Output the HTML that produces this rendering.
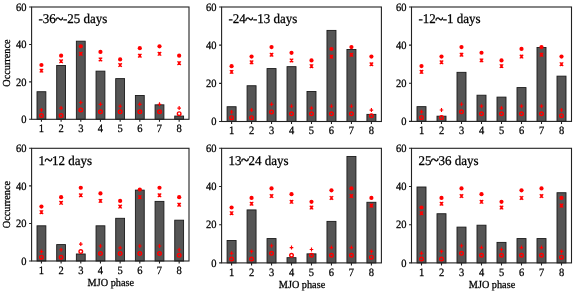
<!DOCTYPE html>
<html><head><meta charset="utf-8"><style>
html,body{margin:0;padding:0;background:#fff;}
body{width:575px;height:292px;overflow:hidden;}
svg{display:block;will-change:transform;}
text{text-rendering:geometricPrecision;font-family:"Liberation Serif",serif;fill:#000000;stroke:#000000;stroke-width:0.25px;}
</style></head><body>
<svg width="575" height="292" viewBox="0 0 575 292">
<rect width="575" height="292" fill="#fff"/>
<rect x="37.01" y="91.72" width="8.85" height="27.58" fill="#555555" stroke="#1a1a1a" stroke-width="0.9"/>
<rect x="56.69" y="65.52" width="8.85" height="53.78" fill="#555555" stroke="#1a1a1a" stroke-width="0.9"/>
<rect x="76.36" y="41.19" width="8.85" height="78.11" fill="#555555" stroke="#1a1a1a" stroke-width="0.9"/>
<rect x="96.04" y="71.14" width="8.85" height="48.16" fill="#555555" stroke="#1a1a1a" stroke-width="0.9"/>
<rect x="115.71" y="78.62" width="8.85" height="40.68" fill="#555555" stroke="#1a1a1a" stroke-width="0.9"/>
<rect x="135.39" y="95.47" width="8.85" height="23.83" fill="#555555" stroke="#1a1a1a" stroke-width="0.9"/>
<rect x="155.06" y="104.83" width="8.85" height="14.47" fill="#555555" stroke="#1a1a1a" stroke-width="0.9"/>
<rect x="174.74" y="116.06" width="8.85" height="3.24" fill="#555555" stroke="#1a1a1a" stroke-width="0.9"/>
<circle cx="41.44" cy="65.02" r="2.1" fill="#ff0000"/>
<path d="M39.74,68.84L43.14,72.44M43.14,68.84L39.74,72.44M40.24,70.64H42.64M41.44,68.84V72.44" stroke="#ff0000" stroke-width="1.25" fill="none"/>
<path d="M39.64,109.94H43.24M41.44,107.94V111.94" stroke="#ff0000" stroke-width="1.15" fill="none"/>
<circle cx="41.44" cy="115.56" r="1.8" fill="none" stroke="#ff0000" stroke-width="1.4"/>
<circle cx="61.11" cy="55.66" r="2.1" fill="#ff0000"/>
<path d="M59.41,59.48L62.81,63.08M62.81,59.48L59.41,63.08M59.91,61.28H62.31M61.11,59.48V63.08" stroke="#ff0000" stroke-width="1.25" fill="none"/>
<path d="M59.31,108.07H62.91M61.11,106.07V110.07" stroke="#ff0000" stroke-width="1.15" fill="none"/>
<circle cx="61.11" cy="115.56" r="1.8" fill="none" stroke="#ff0000" stroke-width="1.4"/>
<circle cx="80.79" cy="46.31" r="2.1" fill="#ff0000"/>
<path d="M79.09,51.99L82.49,55.59M82.49,51.99L79.09,55.59M79.59,53.79H81.99M80.79,51.99V55.59" stroke="#ff0000" stroke-width="1.25" fill="none"/>
<path d="M78.99,102.45H82.59M80.79,100.45V104.45" stroke="#ff0000" stroke-width="1.15" fill="none"/>
<circle cx="80.79" cy="109.94" r="1.8" fill="none" stroke="#ff0000" stroke-width="1.4"/>
<circle cx="100.46" cy="51.92" r="2.1" fill="#ff0000"/>
<path d="M98.76,57.61L102.16,61.21M102.16,57.61L98.76,61.21M99.26,59.41H101.66M100.46,57.61V61.21" stroke="#ff0000" stroke-width="1.25" fill="none"/>
<path d="M98.66,104.33H102.26M100.46,102.33V106.33" stroke="#ff0000" stroke-width="1.15" fill="none"/>
<circle cx="100.46" cy="111.81" r="1.8" fill="none" stroke="#ff0000" stroke-width="1.4"/>
<circle cx="120.14" cy="59.41" r="2.1" fill="#ff0000"/>
<path d="M118.44,63.22L121.84,66.82M121.84,63.22L118.44,66.82M118.94,65.02H121.34M120.14,63.22V66.82" stroke="#ff0000" stroke-width="1.25" fill="none"/>
<path d="M118.34,106.20H121.94M120.14,104.20V108.20" stroke="#ff0000" stroke-width="1.15" fill="none"/>
<circle cx="120.14" cy="111.81" r="1.8" fill="none" stroke="#ff0000" stroke-width="1.4"/>
<circle cx="139.81" cy="48.18" r="2.1" fill="#ff0000"/>
<path d="M138.11,53.86L141.51,57.46M141.51,53.86L138.11,57.46M138.61,55.66H141.01M139.81,53.86V57.46" stroke="#ff0000" stroke-width="1.25" fill="none"/>
<path d="M138.01,104.33H141.61M139.81,102.33V106.33" stroke="#ff0000" stroke-width="1.15" fill="none"/>
<circle cx="139.81" cy="111.81" r="1.8" fill="none" stroke="#ff0000" stroke-width="1.4"/>
<circle cx="159.49" cy="46.31" r="2.1" fill="#ff0000"/>
<path d="M157.79,51.99L161.19,55.59M161.19,51.99L157.79,55.59M158.29,53.79H160.69M159.49,51.99V55.59" stroke="#ff0000" stroke-width="1.25" fill="none"/>
<path d="M157.69,104.33H161.29M159.49,102.33V106.33" stroke="#ff0000" stroke-width="1.15" fill="none"/>
<circle cx="159.49" cy="111.81" r="1.8" fill="none" stroke="#ff0000" stroke-width="1.4"/>
<circle cx="179.16" cy="55.66" r="2.1" fill="#ff0000"/>
<path d="M177.46,61.35L180.86,64.95M180.86,61.35L177.46,64.95M177.96,63.15H180.36M179.16,61.35V64.95" stroke="#ff0000" stroke-width="1.25" fill="none"/>
<path d="M177.36,108.07H180.96M179.16,106.07V110.07" stroke="#ff0000" stroke-width="1.15" fill="none"/>
<circle cx="179.16" cy="113.69" r="1.8" fill="none" stroke="#ff0000" stroke-width="1.4"/>
<rect x="31.60" y="7.00" width="157.40" height="112.30" fill="none" stroke="#222" stroke-width="1.1"/>
<path d="M29.10,119.30H31.60M29.10,81.87H31.60M29.10,44.43H31.60M29.10,7.00H31.60M41.44,119.30V121.80M61.11,119.30V121.80M80.79,119.30V121.80M100.46,119.30V121.80M120.14,119.30V121.80M139.81,119.30V121.80M159.49,119.30V121.80M179.16,119.30V121.80" stroke="#222" stroke-width="1.1" fill="none"/>
<text transform="translate(26.60,122.95) scale(1,1.07)" text-anchor="end" font-size="10.5">0</text>
<text transform="translate(26.60,85.52) scale(1,1.07)" text-anchor="end" font-size="10.5">20</text>
<text transform="translate(26.60,48.08) scale(1,1.07)" text-anchor="end" font-size="10.5">40</text>
<text transform="translate(26.60,10.65) scale(1,1.07)" text-anchor="end" font-size="10.5">60</text>
<text transform="translate(41.44,132.00) scale(1,1.07)" text-anchor="middle" font-size="10.5">1</text>
<text transform="translate(61.11,132.00) scale(1,1.07)" text-anchor="middle" font-size="10.5">2</text>
<text transform="translate(80.79,132.00) scale(1,1.07)" text-anchor="middle" font-size="10.5">3</text>
<text transform="translate(100.46,132.00) scale(1,1.07)" text-anchor="middle" font-size="10.5">4</text>
<text transform="translate(120.14,132.00) scale(1,1.07)" text-anchor="middle" font-size="10.5">5</text>
<text transform="translate(139.81,132.00) scale(1,1.07)" text-anchor="middle" font-size="10.5">6</text>
<text transform="translate(159.49,132.00) scale(1,1.07)" text-anchor="middle" font-size="10.5">7</text>
<text transform="translate(179.16,132.00) scale(1,1.07)" text-anchor="middle" font-size="10.5">8</text>
<text transform="translate(38.50,23.20) scale(1.0,1.03)" font-size="13">-36<tspan dx="-0.54" dy="0.6" font-size="15" style="stroke-width:0.45px">~</tspan><tspan dx="-0.54" dy="-0.6">-25 days</tspan></text>
<text transform="translate(10.10,63.10) rotate(-90) scale(1,1.05)" text-anchor="middle" font-size="10.25">Occurrence</text>
<rect x="227.09" y="106.73" width="8.99" height="14.77" fill="#555555" stroke="#1a1a1a" stroke-width="0.9"/>
<rect x="247.07" y="85.74" width="8.99" height="35.76" fill="#555555" stroke="#1a1a1a" stroke-width="0.9"/>
<rect x="267.04" y="68.57" width="8.99" height="52.93" fill="#555555" stroke="#1a1a1a" stroke-width="0.9"/>
<rect x="287.02" y="66.66" width="8.99" height="54.84" fill="#555555" stroke="#1a1a1a" stroke-width="0.9"/>
<rect x="306.99" y="91.47" width="8.99" height="30.03" fill="#555555" stroke="#1a1a1a" stroke-width="0.9"/>
<rect x="326.97" y="30.40" width="8.99" height="91.10" fill="#555555" stroke="#1a1a1a" stroke-width="0.9"/>
<rect x="346.94" y="49.48" width="8.99" height="72.02" fill="#555555" stroke="#1a1a1a" stroke-width="0.9"/>
<rect x="366.92" y="114.37" width="8.99" height="7.13" fill="#555555" stroke="#1a1a1a" stroke-width="0.9"/>
<circle cx="231.59" cy="66.16" r="2.1" fill="#ff0000"/>
<path d="M229.89,70.08L233.29,73.68M233.29,70.08L229.89,73.68M230.39,71.88H232.79M231.59,70.08V73.68" stroke="#ff0000" stroke-width="1.25" fill="none"/>
<path d="M229.79,111.96H233.39M231.59,109.96V113.96" stroke="#ff0000" stroke-width="1.15" fill="none"/>
<circle cx="231.59" cy="117.68" r="1.8" fill="none" stroke="#ff0000" stroke-width="1.4"/>
<circle cx="251.56" cy="56.62" r="2.1" fill="#ff0000"/>
<path d="M249.86,60.54L253.26,64.14M253.26,60.54L249.86,64.14M250.36,62.34H252.76M251.56,60.54V64.14" stroke="#ff0000" stroke-width="1.25" fill="none"/>
<path d="M249.76,110.05H253.36M251.56,108.05V112.05" stroke="#ff0000" stroke-width="1.15" fill="none"/>
<circle cx="251.56" cy="117.68" r="1.8" fill="none" stroke="#ff0000" stroke-width="1.4"/>
<circle cx="271.54" cy="47.08" r="2.1" fill="#ff0000"/>
<path d="M269.84,52.91L273.24,56.51M273.24,52.91L269.84,56.51M270.34,54.71H272.74M271.54,52.91V56.51" stroke="#ff0000" stroke-width="1.25" fill="none"/>
<path d="M269.74,104.33H273.34M271.54,102.33V106.33" stroke="#ff0000" stroke-width="1.15" fill="none"/>
<circle cx="271.54" cy="111.96" r="1.8" fill="none" stroke="#ff0000" stroke-width="1.4"/>
<circle cx="291.51" cy="52.80" r="2.1" fill="#ff0000"/>
<path d="M289.81,58.63L293.21,62.23M293.21,58.63L289.81,62.23M290.31,60.43H292.71M291.51,58.63V62.23" stroke="#ff0000" stroke-width="1.25" fill="none"/>
<path d="M289.71,106.23H293.31M291.51,104.23V108.23" stroke="#ff0000" stroke-width="1.15" fill="none"/>
<circle cx="291.51" cy="113.87" r="1.8" fill="none" stroke="#ff0000" stroke-width="1.4"/>
<circle cx="311.49" cy="60.43" r="2.1" fill="#ff0000"/>
<path d="M309.79,64.36L313.19,67.96M313.19,64.36L309.79,67.96M310.29,66.16H312.69M311.49,64.36V67.96" stroke="#ff0000" stroke-width="1.25" fill="none"/>
<path d="M309.69,108.14H313.29M311.49,106.14V110.14" stroke="#ff0000" stroke-width="1.15" fill="none"/>
<circle cx="311.49" cy="113.87" r="1.8" fill="none" stroke="#ff0000" stroke-width="1.4"/>
<circle cx="331.46" cy="48.98" r="2.1" fill="#ff0000"/>
<path d="M329.76,54.82L333.16,58.42M333.16,54.82L329.76,58.42M330.26,56.62H332.66M331.46,54.82V58.42" stroke="#ff0000" stroke-width="1.25" fill="none"/>
<path d="M329.66,106.23H333.26M331.46,104.23V108.23" stroke="#ff0000" stroke-width="1.15" fill="none"/>
<circle cx="331.46" cy="113.87" r="1.8" fill="none" stroke="#ff0000" stroke-width="1.4"/>
<circle cx="351.44" cy="47.08" r="2.1" fill="#ff0000"/>
<path d="M349.74,52.91L353.14,56.51M353.14,52.91L349.74,56.51M350.24,54.71H352.64M351.44,52.91V56.51" stroke="#ff0000" stroke-width="1.25" fill="none"/>
<path d="M349.64,106.23H353.24M351.44,104.23V108.23" stroke="#ff0000" stroke-width="1.15" fill="none"/>
<circle cx="351.44" cy="113.87" r="1.8" fill="none" stroke="#ff0000" stroke-width="1.4"/>
<circle cx="371.41" cy="56.62" r="2.1" fill="#ff0000"/>
<path d="M369.71,62.45L373.11,66.05M373.11,62.45L369.71,66.05M370.21,64.25H372.61M371.41,62.45V66.05" stroke="#ff0000" stroke-width="1.25" fill="none"/>
<path d="M369.61,110.05H373.21M371.41,108.05V112.05" stroke="#ff0000" stroke-width="1.15" fill="none"/>
<circle cx="371.41" cy="115.78" r="1.8" fill="none" stroke="#ff0000" stroke-width="1.4"/>
<rect x="221.60" y="7.00" width="159.80" height="114.50" fill="none" stroke="#222" stroke-width="1.1"/>
<path d="M219.10,121.50H221.60M219.10,83.33H221.60M219.10,45.17H221.60M219.10,7.00H221.60M231.59,121.50V124.00M251.56,121.50V124.00M271.54,121.50V124.00M291.51,121.50V124.00M311.49,121.50V124.00M331.46,121.50V124.00M351.44,121.50V124.00M371.41,121.50V124.00" stroke="#222" stroke-width="1.1" fill="none"/>
<text transform="translate(216.60,125.15) scale(1,1.07)" text-anchor="end" font-size="10.5">0</text>
<text transform="translate(216.60,86.98) scale(1,1.07)" text-anchor="end" font-size="10.5">20</text>
<text transform="translate(216.60,48.82) scale(1,1.07)" text-anchor="end" font-size="10.5">40</text>
<text transform="translate(216.60,10.65) scale(1,1.07)" text-anchor="end" font-size="10.5">60</text>
<text transform="translate(231.59,134.20) scale(1,1.07)" text-anchor="middle" font-size="10.5">1</text>
<text transform="translate(251.56,134.20) scale(1,1.07)" text-anchor="middle" font-size="10.5">2</text>
<text transform="translate(271.54,134.20) scale(1,1.07)" text-anchor="middle" font-size="10.5">3</text>
<text transform="translate(291.51,134.20) scale(1,1.07)" text-anchor="middle" font-size="10.5">4</text>
<text transform="translate(311.49,134.20) scale(1,1.07)" text-anchor="middle" font-size="10.5">5</text>
<text transform="translate(331.46,134.20) scale(1,1.07)" text-anchor="middle" font-size="10.5">6</text>
<text transform="translate(351.44,134.20) scale(1,1.07)" text-anchor="middle" font-size="10.5">7</text>
<text transform="translate(371.41,134.20) scale(1,1.07)" text-anchor="middle" font-size="10.5">8</text>
<text transform="translate(228.50,23.20) scale(1.0,1.03)" font-size="13">-24<tspan dx="-0.54" dy="0.6" font-size="15" style="stroke-width:0.45px">~</tspan><tspan dx="-0.54" dy="-0.6">-13 days</tspan></text>
<rect x="417.00" y="106.65" width="9.00" height="14.75" fill="#555555" stroke="#1a1a1a" stroke-width="0.9"/>
<rect x="437.00" y="116.18" width="9.00" height="5.22" fill="#555555" stroke="#1a1a1a" stroke-width="0.9"/>
<rect x="457.00" y="72.33" width="9.00" height="49.07" fill="#555555" stroke="#1a1a1a" stroke-width="0.9"/>
<rect x="477.00" y="95.21" width="9.00" height="26.19" fill="#555555" stroke="#1a1a1a" stroke-width="0.9"/>
<rect x="497.00" y="97.11" width="9.00" height="24.29" fill="#555555" stroke="#1a1a1a" stroke-width="0.9"/>
<rect x="517.00" y="87.58" width="9.00" height="33.82" fill="#555555" stroke="#1a1a1a" stroke-width="0.9"/>
<rect x="537.00" y="47.54" width="9.00" height="73.86" fill="#555555" stroke="#1a1a1a" stroke-width="0.9"/>
<rect x="557.00" y="76.14" width="9.00" height="45.26" fill="#555555" stroke="#1a1a1a" stroke-width="0.9"/>
<circle cx="421.50" cy="66.11" r="2.1" fill="#ff0000"/>
<path d="M419.80,70.03L423.20,73.63M423.20,70.03L419.80,73.63M420.30,71.83H422.70M421.50,70.03V73.63" stroke="#ff0000" stroke-width="1.25" fill="none"/>
<path d="M419.70,111.87H423.30M421.50,109.87V113.87" stroke="#ff0000" stroke-width="1.15" fill="none"/>
<circle cx="421.50" cy="117.59" r="1.8" fill="none" stroke="#ff0000" stroke-width="1.4"/>
<circle cx="441.50" cy="56.57" r="2.1" fill="#ff0000"/>
<path d="M439.80,60.49L443.20,64.09M443.20,60.49L439.80,64.09M440.30,62.29H442.70M441.50,60.49V64.09" stroke="#ff0000" stroke-width="1.25" fill="none"/>
<path d="M439.70,109.96H443.30M441.50,107.96V111.96" stroke="#ff0000" stroke-width="1.15" fill="none"/>
<circle cx="441.50" cy="117.59" r="1.8" fill="none" stroke="#ff0000" stroke-width="1.4"/>
<circle cx="461.50" cy="47.04" r="2.1" fill="#ff0000"/>
<path d="M459.80,52.87L463.20,56.47M463.20,52.87L459.80,56.47M460.30,54.67H462.70M461.50,52.87V56.47" stroke="#ff0000" stroke-width="1.25" fill="none"/>
<path d="M459.70,104.24H463.30M461.50,102.24V106.24" stroke="#ff0000" stroke-width="1.15" fill="none"/>
<circle cx="461.50" cy="111.87" r="1.8" fill="none" stroke="#ff0000" stroke-width="1.4"/>
<circle cx="481.50" cy="52.76" r="2.1" fill="#ff0000"/>
<path d="M479.80,58.59L483.20,62.19M483.20,58.59L479.80,62.19M480.30,60.39H482.70M481.50,58.59V62.19" stroke="#ff0000" stroke-width="1.25" fill="none"/>
<path d="M479.70,106.15H483.30M481.50,104.15V108.15" stroke="#ff0000" stroke-width="1.15" fill="none"/>
<circle cx="481.50" cy="113.77" r="1.8" fill="none" stroke="#ff0000" stroke-width="1.4"/>
<circle cx="501.50" cy="60.39" r="2.1" fill="#ff0000"/>
<path d="M499.80,64.31L503.20,67.91M503.20,64.31L499.80,67.91M500.30,66.11H502.70M501.50,64.31V67.91" stroke="#ff0000" stroke-width="1.25" fill="none"/>
<path d="M499.70,108.05H503.30M501.50,106.05V110.05" stroke="#ff0000" stroke-width="1.15" fill="none"/>
<circle cx="501.50" cy="113.77" r="1.8" fill="none" stroke="#ff0000" stroke-width="1.4"/>
<circle cx="521.50" cy="48.95" r="2.1" fill="#ff0000"/>
<path d="M519.80,54.77L523.20,58.37M523.20,54.77L519.80,58.37M520.30,56.57H522.70M521.50,54.77V58.37" stroke="#ff0000" stroke-width="1.25" fill="none"/>
<path d="M519.70,106.15H523.30M521.50,104.15V108.15" stroke="#ff0000" stroke-width="1.15" fill="none"/>
<circle cx="521.50" cy="113.77" r="1.8" fill="none" stroke="#ff0000" stroke-width="1.4"/>
<circle cx="541.50" cy="47.04" r="2.1" fill="#ff0000"/>
<path d="M539.80,52.87L543.20,56.47M543.20,52.87L539.80,56.47M540.30,54.67H542.70M541.50,52.87V56.47" stroke="#ff0000" stroke-width="1.25" fill="none"/>
<path d="M539.70,106.15H543.30M541.50,104.15V108.15" stroke="#ff0000" stroke-width="1.15" fill="none"/>
<circle cx="541.50" cy="113.77" r="1.8" fill="none" stroke="#ff0000" stroke-width="1.4"/>
<circle cx="561.50" cy="56.57" r="2.1" fill="#ff0000"/>
<path d="M559.80,62.40L563.20,66.00M563.20,62.40L559.80,66.00M560.30,64.20H562.70M561.50,62.40V66.00" stroke="#ff0000" stroke-width="1.25" fill="none"/>
<path d="M559.70,109.96H563.30M561.50,107.96V111.96" stroke="#ff0000" stroke-width="1.15" fill="none"/>
<circle cx="561.50" cy="115.68" r="1.8" fill="none" stroke="#ff0000" stroke-width="1.4"/>
<rect x="411.50" y="7.00" width="160.00" height="114.40" fill="none" stroke="#222" stroke-width="1.1"/>
<path d="M409.00,121.40H411.50M409.00,83.27H411.50M409.00,45.13H411.50M409.00,7.00H411.50M421.50,121.40V123.90M441.50,121.40V123.90M461.50,121.40V123.90M481.50,121.40V123.90M501.50,121.40V123.90M521.50,121.40V123.90M541.50,121.40V123.90M561.50,121.40V123.90" stroke="#222" stroke-width="1.1" fill="none"/>
<text transform="translate(406.50,125.05) scale(1,1.07)" text-anchor="end" font-size="10.5">0</text>
<text transform="translate(406.50,86.92) scale(1,1.07)" text-anchor="end" font-size="10.5">20</text>
<text transform="translate(406.50,48.78) scale(1,1.07)" text-anchor="end" font-size="10.5">40</text>
<text transform="translate(406.50,10.65) scale(1,1.07)" text-anchor="end" font-size="10.5">60</text>
<text transform="translate(421.50,134.10) scale(1,1.07)" text-anchor="middle" font-size="10.5">1</text>
<text transform="translate(441.50,134.10) scale(1,1.07)" text-anchor="middle" font-size="10.5">2</text>
<text transform="translate(461.50,134.10) scale(1,1.07)" text-anchor="middle" font-size="10.5">3</text>
<text transform="translate(481.50,134.10) scale(1,1.07)" text-anchor="middle" font-size="10.5">4</text>
<text transform="translate(501.50,134.10) scale(1,1.07)" text-anchor="middle" font-size="10.5">5</text>
<text transform="translate(521.50,134.10) scale(1,1.07)" text-anchor="middle" font-size="10.5">6</text>
<text transform="translate(541.50,134.10) scale(1,1.07)" text-anchor="middle" font-size="10.5">7</text>
<text transform="translate(561.50,134.10) scale(1,1.07)" text-anchor="middle" font-size="10.5">8</text>
<text transform="translate(418.40,23.20) scale(1.0,1.03)" font-size="13">-12<tspan dx="-0.54" dy="0.6" font-size="15" style="stroke-width:0.45px">~</tspan><tspan dx="-0.54" dy="-0.6">-1 days</tspan></text>
<rect x="37.01" y="225.81" width="8.85" height="35.19" fill="#555555" stroke="#1a1a1a" stroke-width="0.9"/>
<rect x="56.69" y="244.59" width="8.85" height="16.41" fill="#555555" stroke="#1a1a1a" stroke-width="0.9"/>
<rect x="76.36" y="253.99" width="8.85" height="7.01" fill="#555555" stroke="#1a1a1a" stroke-width="0.9"/>
<rect x="96.04" y="225.81" width="8.85" height="35.19" fill="#555555" stroke="#1a1a1a" stroke-width="0.9"/>
<rect x="115.71" y="218.30" width="8.85" height="42.70" fill="#555555" stroke="#1a1a1a" stroke-width="0.9"/>
<rect x="135.39" y="190.12" width="8.85" height="70.88" fill="#555555" stroke="#1a1a1a" stroke-width="0.9"/>
<rect x="155.06" y="201.39" width="8.85" height="59.61" fill="#555555" stroke="#1a1a1a" stroke-width="0.9"/>
<rect x="174.74" y="220.18" width="8.85" height="40.82" fill="#555555" stroke="#1a1a1a" stroke-width="0.9"/>
<circle cx="41.44" cy="206.53" r="2.1" fill="#ff0000"/>
<path d="M39.74,210.36L43.14,213.96M43.14,210.36L39.74,213.96M40.24,212.16H42.64M41.44,210.36V213.96" stroke="#ff0000" stroke-width="1.25" fill="none"/>
<path d="M39.64,251.61H43.24M41.44,249.61V253.61" stroke="#ff0000" stroke-width="1.15" fill="none"/>
<circle cx="41.44" cy="257.24" r="1.8" fill="none" stroke="#ff0000" stroke-width="1.4"/>
<circle cx="61.11" cy="197.14" r="2.1" fill="#ff0000"/>
<path d="M59.41,200.97L62.81,204.57M62.81,200.97L59.41,204.57M59.91,202.77H62.31M61.11,200.97V204.57" stroke="#ff0000" stroke-width="1.25" fill="none"/>
<path d="M59.31,249.73H62.91M61.11,247.73V251.73" stroke="#ff0000" stroke-width="1.15" fill="none"/>
<circle cx="61.11" cy="257.24" r="1.8" fill="none" stroke="#ff0000" stroke-width="1.4"/>
<circle cx="80.79" cy="187.75" r="2.1" fill="#ff0000"/>
<path d="M79.09,193.46L82.49,197.06M82.49,193.46L79.09,197.06M79.59,195.26H81.99M80.79,193.46V197.06" stroke="#ff0000" stroke-width="1.25" fill="none"/>
<path d="M78.99,244.09H82.59M80.79,242.09V246.09" stroke="#ff0000" stroke-width="1.15" fill="none"/>
<circle cx="80.79" cy="251.61" r="1.8" fill="none" stroke="#ff0000" stroke-width="1.4"/>
<circle cx="100.46" cy="193.38" r="2.1" fill="#ff0000"/>
<path d="M98.76,199.09L102.16,202.69M102.16,199.09L98.76,202.69M99.26,200.89H101.66M100.46,199.09V202.69" stroke="#ff0000" stroke-width="1.25" fill="none"/>
<path d="M98.66,245.97H102.26M100.46,243.97V247.97" stroke="#ff0000" stroke-width="1.15" fill="none"/>
<circle cx="100.46" cy="253.49" r="1.8" fill="none" stroke="#ff0000" stroke-width="1.4"/>
<circle cx="120.14" cy="200.89" r="2.1" fill="#ff0000"/>
<path d="M118.44,204.73L121.84,208.33M121.84,204.73L118.44,208.33M118.94,206.53H121.34M120.14,204.73V208.33" stroke="#ff0000" stroke-width="1.25" fill="none"/>
<path d="M118.34,247.85H121.94M120.14,245.85V249.85" stroke="#ff0000" stroke-width="1.15" fill="none"/>
<circle cx="120.14" cy="253.49" r="1.8" fill="none" stroke="#ff0000" stroke-width="1.4"/>
<circle cx="139.81" cy="189.62" r="2.1" fill="#ff0000"/>
<path d="M138.11,195.34L141.51,198.94M141.51,195.34L138.11,198.94M138.61,197.14H141.01M139.81,195.34V198.94" stroke="#ff0000" stroke-width="1.25" fill="none"/>
<path d="M138.01,245.97H141.61M139.81,243.97V247.97" stroke="#ff0000" stroke-width="1.15" fill="none"/>
<circle cx="139.81" cy="253.49" r="1.8" fill="none" stroke="#ff0000" stroke-width="1.4"/>
<circle cx="159.49" cy="187.75" r="2.1" fill="#ff0000"/>
<path d="M157.79,193.46L161.19,197.06M161.19,193.46L157.79,197.06M158.29,195.26H160.69M159.49,193.46V197.06" stroke="#ff0000" stroke-width="1.25" fill="none"/>
<path d="M157.69,245.97H161.29M159.49,243.97V247.97" stroke="#ff0000" stroke-width="1.15" fill="none"/>
<circle cx="159.49" cy="253.49" r="1.8" fill="none" stroke="#ff0000" stroke-width="1.4"/>
<circle cx="179.16" cy="197.14" r="2.1" fill="#ff0000"/>
<path d="M177.46,202.85L180.86,206.45M180.86,202.85L177.46,206.45M177.96,204.65H180.36M179.16,202.85V206.45" stroke="#ff0000" stroke-width="1.25" fill="none"/>
<path d="M177.36,249.73H180.96M179.16,247.73V251.73" stroke="#ff0000" stroke-width="1.15" fill="none"/>
<circle cx="179.16" cy="255.37" r="1.8" fill="none" stroke="#ff0000" stroke-width="1.4"/>
<rect x="31.60" y="148.30" width="157.40" height="112.70" fill="none" stroke="#222" stroke-width="1.1"/>
<path d="M29.10,261.00H31.60M29.10,223.43H31.60M29.10,185.87H31.60M29.10,148.30H31.60M41.44,261.00V263.50M61.11,261.00V263.50M80.79,261.00V263.50M100.46,261.00V263.50M120.14,261.00V263.50M139.81,261.00V263.50M159.49,261.00V263.50M179.16,261.00V263.50" stroke="#222" stroke-width="1.1" fill="none"/>
<text transform="translate(26.60,264.65) scale(1,1.07)" text-anchor="end" font-size="10.5">0</text>
<text transform="translate(26.60,227.08) scale(1,1.07)" text-anchor="end" font-size="10.5">20</text>
<text transform="translate(26.60,189.52) scale(1,1.07)" text-anchor="end" font-size="10.5">40</text>
<text transform="translate(26.60,151.95) scale(1,1.07)" text-anchor="end" font-size="10.5">60</text>
<text transform="translate(41.44,273.70) scale(1,1.07)" text-anchor="middle" font-size="10.5">1</text>
<text transform="translate(61.11,273.70) scale(1,1.07)" text-anchor="middle" font-size="10.5">2</text>
<text transform="translate(80.79,273.70) scale(1,1.07)" text-anchor="middle" font-size="10.5">3</text>
<text transform="translate(100.46,273.70) scale(1,1.07)" text-anchor="middle" font-size="10.5">4</text>
<text transform="translate(120.14,273.70) scale(1,1.07)" text-anchor="middle" font-size="10.5">5</text>
<text transform="translate(139.81,273.70) scale(1,1.07)" text-anchor="middle" font-size="10.5">6</text>
<text transform="translate(159.49,273.70) scale(1,1.07)" text-anchor="middle" font-size="10.5">7</text>
<text transform="translate(179.16,273.70) scale(1,1.07)" text-anchor="middle" font-size="10.5">8</text>
<text transform="translate(38.50,164.50) scale(1.0,1.03)" font-size="13">1<tspan dx="-0.54" dy="0.6" font-size="15" style="stroke-width:0.45px">~</tspan><tspan dx="-0.54" dy="-0.6">12 days</tspan></text>
<text transform="translate(110.80,286.30) scale(1,1.05)" text-anchor="middle" font-size="10.25">MJO phase</text>
<text transform="translate(10.10,204.60) rotate(-90) scale(1,1.05)" text-anchor="middle" font-size="10.25">Occurrence</text>
<rect x="227.09" y="240.48" width="8.99" height="22.42" fill="#555555" stroke="#1a1a1a" stroke-width="0.9"/>
<rect x="247.07" y="209.92" width="8.99" height="52.98" fill="#555555" stroke="#1a1a1a" stroke-width="0.9"/>
<rect x="267.04" y="238.57" width="8.99" height="24.33" fill="#555555" stroke="#1a1a1a" stroke-width="0.9"/>
<rect x="287.02" y="257.67" width="8.99" height="5.23" fill="#555555" stroke="#1a1a1a" stroke-width="0.9"/>
<rect x="306.99" y="253.85" width="8.99" height="9.05" fill="#555555" stroke="#1a1a1a" stroke-width="0.9"/>
<rect x="326.97" y="221.38" width="8.99" height="41.52" fill="#555555" stroke="#1a1a1a" stroke-width="0.9"/>
<rect x="346.94" y="156.44" width="8.99" height="106.46" fill="#555555" stroke="#1a1a1a" stroke-width="0.9"/>
<rect x="366.92" y="202.28" width="8.99" height="60.62" fill="#555555" stroke="#1a1a1a" stroke-width="0.9"/>
<circle cx="231.59" cy="207.51" r="2.1" fill="#ff0000"/>
<path d="M229.89,211.44L233.29,215.04M233.29,211.44L229.89,215.04M230.39,213.24H232.79M231.59,211.44V215.04" stroke="#ff0000" stroke-width="1.25" fill="none"/>
<path d="M229.79,253.35H233.39M231.59,251.35V255.35" stroke="#ff0000" stroke-width="1.15" fill="none"/>
<circle cx="231.59" cy="259.08" r="1.8" fill="none" stroke="#ff0000" stroke-width="1.4"/>
<circle cx="251.56" cy="197.96" r="2.1" fill="#ff0000"/>
<path d="M249.86,201.89L253.26,205.49M253.26,201.89L249.86,205.49M250.36,203.69H252.76M251.56,201.89V205.49" stroke="#ff0000" stroke-width="1.25" fill="none"/>
<path d="M249.76,251.44H253.36M251.56,249.44V253.44" stroke="#ff0000" stroke-width="1.15" fill="none"/>
<circle cx="251.56" cy="259.08" r="1.8" fill="none" stroke="#ff0000" stroke-width="1.4"/>
<circle cx="271.54" cy="188.41" r="2.1" fill="#ff0000"/>
<path d="M269.84,194.25L273.24,197.85M273.24,194.25L269.84,197.85M270.34,196.05H272.74M271.54,194.25V197.85" stroke="#ff0000" stroke-width="1.25" fill="none"/>
<path d="M269.74,245.71H273.34M271.54,243.71V247.71" stroke="#ff0000" stroke-width="1.15" fill="none"/>
<circle cx="271.54" cy="253.35" r="1.8" fill="none" stroke="#ff0000" stroke-width="1.4"/>
<circle cx="291.51" cy="194.14" r="2.1" fill="#ff0000"/>
<path d="M289.81,199.98L293.21,203.58M293.21,199.98L289.81,203.58M290.31,201.78H292.71M291.51,199.98V203.58" stroke="#ff0000" stroke-width="1.25" fill="none"/>
<path d="M289.71,247.62H293.31M291.51,245.62V249.62" stroke="#ff0000" stroke-width="1.15" fill="none"/>
<circle cx="291.51" cy="255.26" r="1.8" fill="none" stroke="#ff0000" stroke-width="1.4"/>
<circle cx="311.49" cy="201.78" r="2.1" fill="#ff0000"/>
<path d="M309.79,205.71L313.19,209.31M313.19,205.71L309.79,209.31M310.29,207.51H312.69M311.49,205.71V209.31" stroke="#ff0000" stroke-width="1.25" fill="none"/>
<path d="M309.69,249.53H313.29M311.49,247.53V251.53" stroke="#ff0000" stroke-width="1.15" fill="none"/>
<circle cx="311.49" cy="255.26" r="1.8" fill="none" stroke="#ff0000" stroke-width="1.4"/>
<circle cx="331.46" cy="190.32" r="2.1" fill="#ff0000"/>
<path d="M329.76,196.16L333.16,199.76M333.16,196.16L329.76,199.76M330.26,197.96H332.66M331.46,196.16V199.76" stroke="#ff0000" stroke-width="1.25" fill="none"/>
<path d="M329.66,247.62H333.26M331.46,245.62V249.62" stroke="#ff0000" stroke-width="1.15" fill="none"/>
<circle cx="331.46" cy="255.26" r="1.8" fill="none" stroke="#ff0000" stroke-width="1.4"/>
<circle cx="351.44" cy="188.41" r="2.1" fill="#ff0000"/>
<path d="M349.74,194.25L353.14,197.85M353.14,194.25L349.74,197.85M350.24,196.05H352.64M351.44,194.25V197.85" stroke="#ff0000" stroke-width="1.25" fill="none"/>
<path d="M349.64,247.62H353.24M351.44,245.62V249.62" stroke="#ff0000" stroke-width="1.15" fill="none"/>
<circle cx="351.44" cy="255.26" r="1.8" fill="none" stroke="#ff0000" stroke-width="1.4"/>
<circle cx="371.41" cy="197.96" r="2.1" fill="#ff0000"/>
<path d="M369.71,203.80L373.11,207.40M373.11,203.80L369.71,207.40M370.21,205.60H372.61M371.41,203.80V207.40" stroke="#ff0000" stroke-width="1.25" fill="none"/>
<path d="M369.61,251.44H373.21M371.41,249.44V253.44" stroke="#ff0000" stroke-width="1.15" fill="none"/>
<circle cx="371.41" cy="257.17" r="1.8" fill="none" stroke="#ff0000" stroke-width="1.4"/>
<rect x="221.60" y="148.30" width="159.80" height="114.60" fill="none" stroke="#222" stroke-width="1.1"/>
<path d="M219.10,262.90H221.60M219.10,224.70H221.60M219.10,186.50H221.60M219.10,148.30H221.60M231.59,262.90V265.40M251.56,262.90V265.40M271.54,262.90V265.40M291.51,262.90V265.40M311.49,262.90V265.40M331.46,262.90V265.40M351.44,262.90V265.40M371.41,262.90V265.40" stroke="#222" stroke-width="1.1" fill="none"/>
<text transform="translate(216.60,266.55) scale(1,1.07)" text-anchor="end" font-size="10.5">0</text>
<text transform="translate(216.60,228.35) scale(1,1.07)" text-anchor="end" font-size="10.5">20</text>
<text transform="translate(216.60,190.15) scale(1,1.07)" text-anchor="end" font-size="10.5">40</text>
<text transform="translate(216.60,151.95) scale(1,1.07)" text-anchor="end" font-size="10.5">60</text>
<text transform="translate(231.59,275.60) scale(1,1.07)" text-anchor="middle" font-size="10.5">1</text>
<text transform="translate(251.56,275.60) scale(1,1.07)" text-anchor="middle" font-size="10.5">2</text>
<text transform="translate(271.54,275.60) scale(1,1.07)" text-anchor="middle" font-size="10.5">3</text>
<text transform="translate(291.51,275.60) scale(1,1.07)" text-anchor="middle" font-size="10.5">4</text>
<text transform="translate(311.49,275.60) scale(1,1.07)" text-anchor="middle" font-size="10.5">5</text>
<text transform="translate(331.46,275.60) scale(1,1.07)" text-anchor="middle" font-size="10.5">6</text>
<text transform="translate(351.44,275.60) scale(1,1.07)" text-anchor="middle" font-size="10.5">7</text>
<text transform="translate(371.41,275.60) scale(1,1.07)" text-anchor="middle" font-size="10.5">8</text>
<text transform="translate(228.50,164.50) scale(1.0,1.03)" font-size="13">13<tspan dx="-0.54" dy="0.6" font-size="15" style="stroke-width:0.45px">~</tspan><tspan dx="-0.54" dy="-0.6">24 days</tspan></text>
<text transform="translate(302.00,288.20) scale(1,1.05)" text-anchor="middle" font-size="10.25">MJO phase</text>
<rect x="417.00" y="187.00" width="9.00" height="75.90" fill="#555555" stroke="#1a1a1a" stroke-width="0.9"/>
<rect x="437.00" y="213.74" width="9.00" height="49.16" fill="#555555" stroke="#1a1a1a" stroke-width="0.9"/>
<rect x="457.00" y="227.11" width="9.00" height="35.79" fill="#555555" stroke="#1a1a1a" stroke-width="0.9"/>
<rect x="477.00" y="225.20" width="9.00" height="37.70" fill="#555555" stroke="#1a1a1a" stroke-width="0.9"/>
<rect x="497.00" y="242.39" width="9.00" height="20.51" fill="#555555" stroke="#1a1a1a" stroke-width="0.9"/>
<rect x="517.00" y="238.57" width="9.00" height="24.33" fill="#555555" stroke="#1a1a1a" stroke-width="0.9"/>
<rect x="537.00" y="238.57" width="9.00" height="24.33" fill="#555555" stroke="#1a1a1a" stroke-width="0.9"/>
<rect x="557.00" y="192.73" width="9.00" height="70.17" fill="#555555" stroke="#1a1a1a" stroke-width="0.9"/>
<circle cx="421.50" cy="207.51" r="2.1" fill="#ff0000"/>
<path d="M419.80,211.44L423.20,215.04M423.20,211.44L419.80,215.04M420.30,213.24H422.70M421.50,211.44V215.04" stroke="#ff0000" stroke-width="1.25" fill="none"/>
<path d="M419.70,253.35H423.30M421.50,251.35V255.35" stroke="#ff0000" stroke-width="1.15" fill="none"/>
<circle cx="421.50" cy="259.08" r="1.8" fill="none" stroke="#ff0000" stroke-width="1.4"/>
<circle cx="441.50" cy="197.96" r="2.1" fill="#ff0000"/>
<path d="M439.80,201.89L443.20,205.49M443.20,201.89L439.80,205.49M440.30,203.69H442.70M441.50,201.89V205.49" stroke="#ff0000" stroke-width="1.25" fill="none"/>
<path d="M439.70,251.44H443.30M441.50,249.44V253.44" stroke="#ff0000" stroke-width="1.15" fill="none"/>
<circle cx="441.50" cy="259.08" r="1.8" fill="none" stroke="#ff0000" stroke-width="1.4"/>
<circle cx="461.50" cy="188.41" r="2.1" fill="#ff0000"/>
<path d="M459.80,194.25L463.20,197.85M463.20,194.25L459.80,197.85M460.30,196.05H462.70M461.50,194.25V197.85" stroke="#ff0000" stroke-width="1.25" fill="none"/>
<path d="M459.70,245.71H463.30M461.50,243.71V247.71" stroke="#ff0000" stroke-width="1.15" fill="none"/>
<circle cx="461.50" cy="253.35" r="1.8" fill="none" stroke="#ff0000" stroke-width="1.4"/>
<circle cx="481.50" cy="194.14" r="2.1" fill="#ff0000"/>
<path d="M479.80,199.98L483.20,203.58M483.20,199.98L479.80,203.58M480.30,201.78H482.70M481.50,199.98V203.58" stroke="#ff0000" stroke-width="1.25" fill="none"/>
<path d="M479.70,247.62H483.30M481.50,245.62V249.62" stroke="#ff0000" stroke-width="1.15" fill="none"/>
<circle cx="481.50" cy="255.26" r="1.8" fill="none" stroke="#ff0000" stroke-width="1.4"/>
<circle cx="501.50" cy="201.78" r="2.1" fill="#ff0000"/>
<path d="M499.80,205.71L503.20,209.31M503.20,205.71L499.80,209.31M500.30,207.51H502.70M501.50,205.71V209.31" stroke="#ff0000" stroke-width="1.25" fill="none"/>
<path d="M499.70,249.53H503.30M501.50,247.53V251.53" stroke="#ff0000" stroke-width="1.15" fill="none"/>
<circle cx="501.50" cy="255.26" r="1.8" fill="none" stroke="#ff0000" stroke-width="1.4"/>
<circle cx="521.50" cy="190.32" r="2.1" fill="#ff0000"/>
<path d="M519.80,196.16L523.20,199.76M523.20,196.16L519.80,199.76M520.30,197.96H522.70M521.50,196.16V199.76" stroke="#ff0000" stroke-width="1.25" fill="none"/>
<path d="M519.70,247.62H523.30M521.50,245.62V249.62" stroke="#ff0000" stroke-width="1.15" fill="none"/>
<circle cx="521.50" cy="255.26" r="1.8" fill="none" stroke="#ff0000" stroke-width="1.4"/>
<circle cx="541.50" cy="188.41" r="2.1" fill="#ff0000"/>
<path d="M539.80,194.25L543.20,197.85M543.20,194.25L539.80,197.85M540.30,196.05H542.70M541.50,194.25V197.85" stroke="#ff0000" stroke-width="1.25" fill="none"/>
<path d="M539.70,247.62H543.30M541.50,245.62V249.62" stroke="#ff0000" stroke-width="1.15" fill="none"/>
<circle cx="541.50" cy="255.26" r="1.8" fill="none" stroke="#ff0000" stroke-width="1.4"/>
<circle cx="561.50" cy="197.96" r="2.1" fill="#ff0000"/>
<path d="M559.80,203.80L563.20,207.40M563.20,203.80L559.80,207.40M560.30,205.60H562.70M561.50,203.80V207.40" stroke="#ff0000" stroke-width="1.25" fill="none"/>
<path d="M559.70,251.44H563.30M561.50,249.44V253.44" stroke="#ff0000" stroke-width="1.15" fill="none"/>
<circle cx="561.50" cy="257.17" r="1.8" fill="none" stroke="#ff0000" stroke-width="1.4"/>
<rect x="411.50" y="148.30" width="160.00" height="114.60" fill="none" stroke="#222" stroke-width="1.1"/>
<path d="M409.00,262.90H411.50M409.00,224.70H411.50M409.00,186.50H411.50M409.00,148.30H411.50M421.50,262.90V265.40M441.50,262.90V265.40M461.50,262.90V265.40M481.50,262.90V265.40M501.50,262.90V265.40M521.50,262.90V265.40M541.50,262.90V265.40M561.50,262.90V265.40" stroke="#222" stroke-width="1.1" fill="none"/>
<text transform="translate(406.50,266.55) scale(1,1.07)" text-anchor="end" font-size="10.5">0</text>
<text transform="translate(406.50,228.35) scale(1,1.07)" text-anchor="end" font-size="10.5">20</text>
<text transform="translate(406.50,190.15) scale(1,1.07)" text-anchor="end" font-size="10.5">40</text>
<text transform="translate(406.50,151.95) scale(1,1.07)" text-anchor="end" font-size="10.5">60</text>
<text transform="translate(421.50,275.60) scale(1,1.07)" text-anchor="middle" font-size="10.5">1</text>
<text transform="translate(441.50,275.60) scale(1,1.07)" text-anchor="middle" font-size="10.5">2</text>
<text transform="translate(461.50,275.60) scale(1,1.07)" text-anchor="middle" font-size="10.5">3</text>
<text transform="translate(481.50,275.60) scale(1,1.07)" text-anchor="middle" font-size="10.5">4</text>
<text transform="translate(501.50,275.60) scale(1,1.07)" text-anchor="middle" font-size="10.5">5</text>
<text transform="translate(521.50,275.60) scale(1,1.07)" text-anchor="middle" font-size="10.5">6</text>
<text transform="translate(541.50,275.60) scale(1,1.07)" text-anchor="middle" font-size="10.5">7</text>
<text transform="translate(561.50,275.60) scale(1,1.07)" text-anchor="middle" font-size="10.5">8</text>
<text transform="translate(418.40,164.50) scale(1.0,1.03)" font-size="13">25<tspan dx="-0.54" dy="0.6" font-size="15" style="stroke-width:0.45px">~</tspan><tspan dx="-0.54" dy="-0.6">36 days</tspan></text>
<text transform="translate(492.00,288.20) scale(1,1.05)" text-anchor="middle" font-size="10.25">MJO phase</text>
</svg>
</body></html>
